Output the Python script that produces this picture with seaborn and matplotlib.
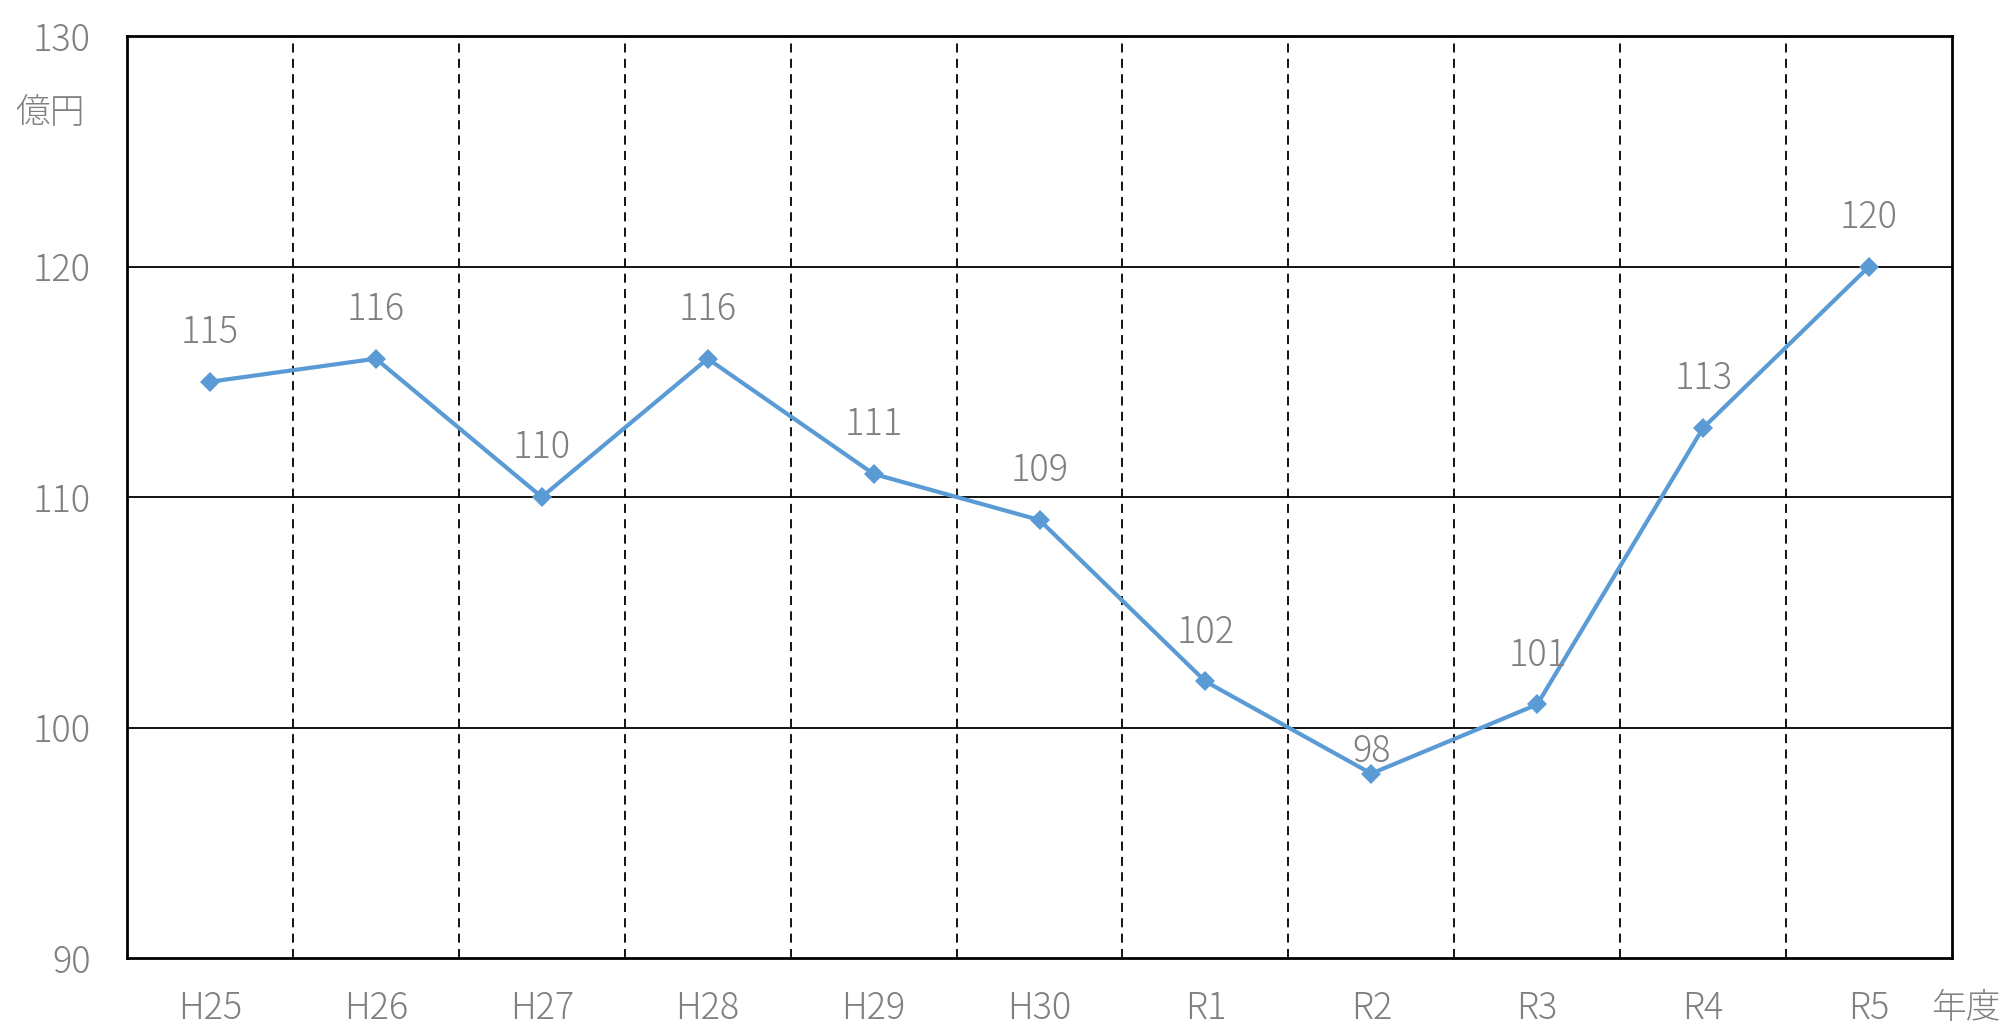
import matplotlib
matplotlib.use("Agg")
import matplotlib.pyplot as plt
import seaborn as sns
import pandas as pd

years = ["H25", "H26", "H27", "H28", "H29", "H30", "R1", "R2", "R3", "R4", "R5"]
values = [115, 116, 110, 116, 111, 109, 102, 98, 101, 113, 120]
y_ticks = [90, 100, 110, 120, 130]

df = pd.DataFrame({"year": years, "value": values})

sns.set_theme(style="white")
plt.rcParams['font.family'] = ['Noto Sans CJK JP', 'DejaVu Sans']

fig = plt.figure(figsize=(20.03, 10.28), dpi=100)
ax = fig.add_axes([127/2003, 1-958/1028, (1952-127)/2003, (958-36)/1028])

grey = "#808080"
blue = "#5B9BD5"

sns.lineplot(data=df, x="year", y="value", ax=ax, color=blue, linewidth=3,
             marker="D", markersize=10, markeredgewidth=0, sort=False)

ax.set_xlim(-0.5, len(years) - 0.5)
ax.set_ylim(y_ticks[0], y_ticks[-1])
ax.set_yticks(y_ticks)
ax.set_yticklabels([str(t) for t in y_ticks])

for t in y_ticks[1:-1]:
    ax.axhline(t, color="black", linewidth=1.3, zorder=0)
for i in range(1, len(years)):
    ax.axvline(i - 0.5, color="black", linewidth=1.3, linestyle=(0, (5, 3.5)), zorder=0)

for s in ax.spines.values():
    s.set_color("black")
    s.set_linewidth(2)

ax.tick_params(axis="y", length=0, pad=26, labelsize=26, labelcolor=grey)
ax.tick_params(axis="x", length=0, pad=23, labelsize=26, labelcolor=grey)
for lab in ax.get_xticklabels() + ax.get_yticklabels():
    lab.set_fontweight("light")
ax.set_xlabel("")
ax.set_ylabel("")

offsets = [28, 28, 28, 28, 28, 28, 28, 8, 28, 28, 28]
for i, (v, off) in enumerate(zip(values, offsets)):
    ax.annotate(str(v), (i, v), xytext=(0, off), textcoords="offset points",
                ha="center", va="baseline", fontsize=26, color=grey, fontweight="light")

fig.text(50/2003, 1-113/1028, "億円", ha="center", va="center", fontsize=25, color=grey, fontweight="light")
fig.text(1966/2003, 1-1008/1028, "年度", ha="center", va="center", fontsize=25, color=grey, fontweight="light")

fig.savefig("out.png", dpi=100)
